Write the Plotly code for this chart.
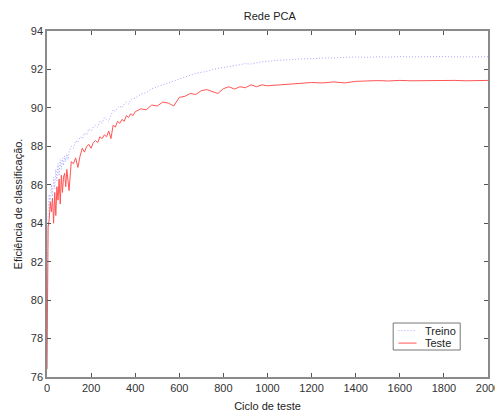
import plotly.graph_objects as go

# Test cycle positions at which efficiency was recorded
ciclos = [0, 5, 10, 15, 20, 25, 30, 35, 40, 45, 50, 55, 60, 65, 70, 75, 80, 85, 90, 95,
          100, 110, 120, 130, 140, 150, 160, 170, 180, 190, 200, 210, 220, 230, 240,
          250, 260, 270, 280, 290, 300, 310, 320, 330, 340, 350, 360, 370, 380, 390,
          400, 425, 450, 475, 500, 525, 550, 575, 600, 625, 650, 675, 700, 725, 750,
          775, 800, 825, 850, 875, 900, 925, 950, 975, 1000, 1050, 1100, 1150, 1200,
          1250, 1300, 1350, 1400, 1450, 1500, 1550, 1600, 1650, 1700, 1750, 1800,
          1850, 1900, 1950, 2000]

# Classification efficiency on the training set (%)
treino = [76.5, 84.5, 85.5, 84.8, 86.0, 85.4, 86.4, 85.8, 86.8, 86.2, 87.1, 86.5, 87.3,
          86.8, 87.4, 87.0, 87.5, 87.2, 87.6, 87.3, 87.7, 88.0, 87.9, 88.3, 88.2, 88.5,
          88.4, 88.7, 88.6, 88.9, 88.8, 89.0, 89.1, 89.0, 89.3, 89.2, 89.5, 89.4, 89.3,
          89.6, 89.9, 89.8, 90.0, 90.1, 90.0, 90.2, 90.3, 90.2, 90.4, 90.5, 90.5, 90.7,
          90.8, 91.0, 91.1, 91.2, 91.3, 91.4, 91.5, 91.6, 91.7, 91.8, 91.85, 91.9, 92.0,
          92.05, 92.1, 92.12, 92.2, 92.25, 92.3, 92.28, 92.35, 92.4, 92.42, 92.48, 92.5,
          92.55, 92.56, 92.6, 92.6, 92.64, 92.65, 92.63, 92.66, 92.64, 92.67, 92.65,
          92.66, 92.64, 92.67, 92.65, 92.66, 92.64, 92.66]

# Classification efficiency on the test set (%)
teste = [76.4, 83.8, 84.2, 85.1, 84.6, 85.3, 84.0, 85.6, 84.4, 85.9, 85.2, 86.3, 85.0,
         86.5, 85.6, 86.4, 86.6, 85.9, 86.8, 86.1, 85.7, 87.2, 87.1, 87.4, 86.9, 87.5,
         87.9, 87.7, 88.0, 88.1, 87.9, 88.2, 88.3, 88.2, 88.5, 88.4, 88.6, 88.5, 88.8,
         88.4, 89.1, 89.0, 89.3, 89.2, 89.4, 89.3, 89.6, 89.5, 89.7, 89.6, 89.8, 89.95,
         89.9, 90.15, 90.1, 90.3, 90.25, 90.1, 90.55, 90.6, 90.75, 90.7, 90.9, 90.95, 90.85,
         90.75, 91.0, 91.1, 90.98, 91.1, 91.05, 91.2, 91.1, 91.2, 91.15, 91.2, 91.22,
         91.28, 91.32, 91.3, 91.35, 91.3, 91.38, 91.4, 91.42, 91.4, 91.43, 91.41,
         91.42, 91.44, 91.42, 91.43, 91.41, 91.43, 91.43]

x_ticks = [0, 200, 400, 600, 800, 1000, 1200, 1400, 1600, 1800, 2000]
y_ticks = [76, 78, 80, 82, 84, 86, 88, 90, 92, 94]

font = "Liberation Sans, Arial, sans-serif"
cor_treino = "rgb(165,165,255)"
cor_teste = "rgb(255,85,85)"
traco_treino = "1px,2px"

fig = go.Figure()
fig.add_trace(go.Scatter(
    x=ciclos, y=treino, mode="lines", name="Treino",
    line=dict(color=cor_treino, width=1, dash=traco_treino),
))
fig.add_trace(go.Scatter(
    x=ciclos, y=teste, mode="lines", name="Teste",
    line=dict(color=cor_teste, width=1),
))

axis_common = dict(
    showline=True, linecolor="#8a8a8a", linewidth=1.5, mirror="allticks",
    ticks="inside", ticklen=4, tickcolor="#555555", tickwidth=1,
    showgrid=False, zeroline=False, ticklabeloverflow="allow", automargin=False,
    tickfont=dict(family=font, size=11, color="#333333"),
)

# Compact legend box in the lower right corner of the axes
legenda_shapes = [
    dict(type="rect", xref="paper", yref="paper", x0=0.785, x1=0.937, y0=0.078, y1=0.156,
         line=dict(color="#777777", width=1), fillcolor="white", layer="above"),
    dict(type="line", xref="paper", yref="paper", x0=0.797, x1=0.838, y0=0.134, y1=0.134,
         line=dict(color=cor_treino, width=1, dash=traco_treino), layer="above"),
    dict(type="line", xref="paper", yref="paper", x0=0.797, x1=0.838, y0=0.098, y1=0.098,
         line=dict(color=cor_teste, width=1), layer="above"),
]
legenda_textos = [
    dict(text="Treino", xref="paper", yref="paper", x=0.852, y=0.134,
         xanchor="left", yanchor="middle", showarrow=False,
         font=dict(family=font, size=11, color="#222222")),
    dict(text="Teste", xref="paper", yref="paper", x=0.852, y=0.098,
         xanchor="left", yanchor="middle", showarrow=False,
         font=dict(family=font, size=11, color="#222222")),
]

fig.update_layout(
    width=495, height=412,
    margin=dict(l=47, r=7, t=31, b=35),
    paper_bgcolor="white", plot_bgcolor="white",
    title=dict(text="Rede PCA", x=0.545, xanchor="center", y=0.96, yanchor="middle",
               font=dict(family=font, size=11, color="#222222")),
    xaxis=dict(range=[0, 2000], tickvals=x_ticks, ticktext=[str(v) for v in x_ticks],
               title=dict(text="Ciclo de teste", standoff=9,
                          font=dict(family=font, size=11, color="#222222")),
               **axis_common),
    yaxis=dict(range=[76, 94], tickvals=y_ticks, ticktext=[str(v) for v in y_ticks],
               title=dict(text="Eficiência de classificação.", standoff=6,
                          font=dict(family=font, size=11, color="#222222")),
               **axis_common),
    shapes=legenda_shapes,
    annotations=legenda_textos,
    showlegend=False,
)

fig.write_html("out.html")
